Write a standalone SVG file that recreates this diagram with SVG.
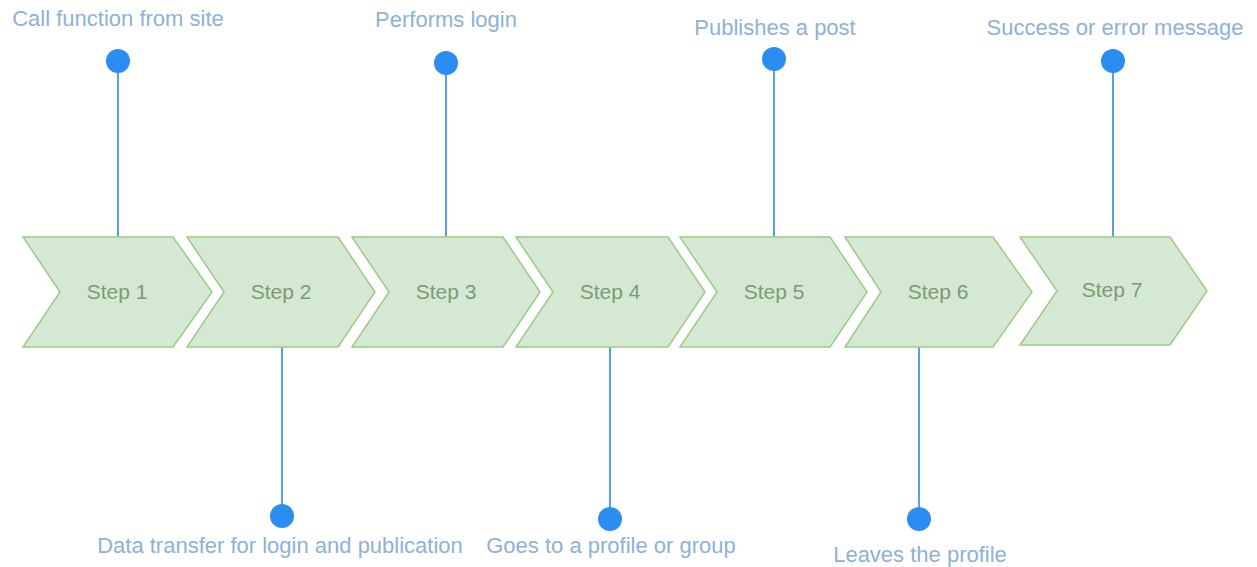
<svg xmlns="http://www.w3.org/2000/svg" width="1257" height="567" viewBox="0 0 1257 567">
<style>
.step{fill:#d5e8d4;stroke:#9ccb85;stroke-width:1.5}
.st{font-family:"Liberation Sans",Arial,sans-serif;font-size:21px;fill:#7d9b72;text-anchor:middle}
.lb{font-family:"Liberation Sans",Arial,sans-serif;font-size:22px;fill:#8eb1d8;text-anchor:middle}
.ln{stroke:#5a9fe0;stroke-width:2;fill:none}
.dot{fill:#2b8cf2}
</style>
<rect width="1257" height="567" fill="#ffffff"/>
<g id="connectors">
<line class="ln" x1="118" y1="237" x2="118" y2="61"/>
<line class="ln" x1="282" y1="347" x2="282" y2="516"/>
<line class="ln" x1="446" y1="237" x2="446" y2="63"/>
<line class="ln" x1="610" y1="347" x2="610" y2="519"/>
<line class="ln" x1="774" y1="237" x2="774" y2="59"/>
<line class="ln" x1="919" y1="347" x2="919" y2="519"/>
<line class="ln" x1="1113" y1="237" x2="1113" y2="61"/>
</g>
<g id="step1"><path class="step" d="M23,237 H173 L212,292 L173,347 H23 L60,292 Z"/><text class="st" x="117" y="299">Step 1</text></g>
<g id="step2"><path class="step" d="M187,237 H338 L375,292 L338,347 H187 L224,292 Z"/><text class="st" x="281" y="299">Step 2</text></g>
<g id="step3"><path class="step" d="M352,237 H503 L540,292 L503,347 H352 L389,292 Z"/><text class="st" x="446" y="299">Step 3</text></g>
<g id="step4"><path class="step" d="M516,237 H668 L705,292 L668,347 H516 L553,292 Z"/><text class="st" x="610" y="299">Step 4</text></g>
<g id="step5"><path class="step" d="M680,237 H830 L867,292 L830,347 H680 L717,292 Z"/><text class="st" x="774" y="299">Step 5</text></g>
<g id="step6"><path class="step" d="M845,237 H993 L1032,292 L993,347 H845 L881,292 Z"/><text class="st" x="938" y="299">Step 6</text></g>
<g id="step7"><path class="step" d="M1020,237 H1170 L1207,291 L1170,345 H1020 L1057,291 Z"/><text class="st" x="1112" y="297">Step 7</text></g>
<g id="label1"><circle class="dot" cx="118" cy="61" r="12"/><text class="lb" x="118" y="26">Call function from site</text></g>
<g id="label2"><circle class="dot" cx="282" cy="516" r="12"/><text class="lb" x="280" y="553">Data transfer for login and publication</text></g>
<g id="label3"><circle class="dot" cx="446" cy="63" r="12"/><text class="lb" x="446" y="27">Performs login</text></g>
<g id="label4"><circle class="dot" cx="610" cy="519" r="12"/><text class="lb" x="611" y="553">Goes to a profile or group</text></g>
<g id="label5"><circle class="dot" cx="774" cy="59" r="12"/><text class="lb" x="775" y="35">Publishes a post</text></g>
<g id="label6"><circle class="dot" cx="919" cy="519" r="12"/><text class="lb" x="920" y="562">Leaves the profile</text></g>
<g id="label7"><circle class="dot" cx="1113" cy="61" r="12"/><text class="lb" x="1115" y="35">Success or error message</text></g>
</svg>
